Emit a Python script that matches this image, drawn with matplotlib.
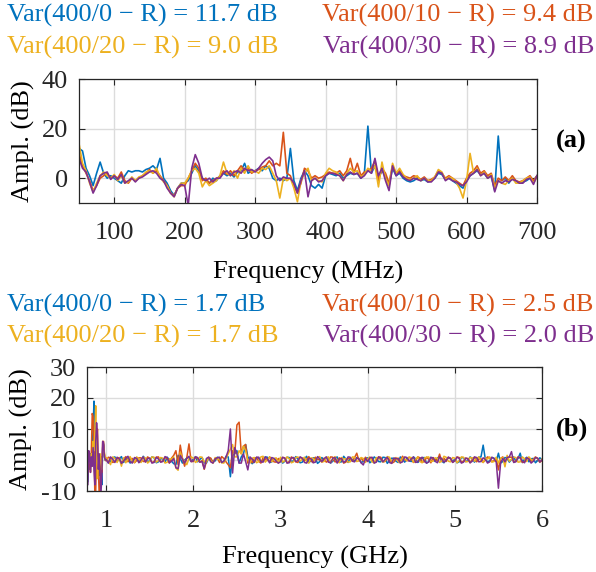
import numpy as np
import matplotlib
matplotlib.use("Agg")
import matplotlib.pyplot as plt

plt.rcParams["font.family"] = ["Liberation Serif", "DejaVu Serif"]
plt.rcParams["axes.unicode_minus"] = False

colors = ["#0072BD", "#D95319", "#EDB120", "#7E2F8E"]

# (a) 50-700 MHz, 5 MHz step
freq_a = np.arange(50, 701, 5)
blue_a = [12, 11, 4, 1, -3, 2, 6.5, 2, 0, 1,
          0, -1, -2, 1, 3, 2.5, 3, 3, 2.5, 3.5,
          4, 5, 3.5, 8, 0, -2, -5, -7, -4, -2,
          -2, -1, 2, 5, 3, 0, -1, -2, 0, -1,
          1, 2, 1, 2, 0.5, 2.5, 3, 6, 2, 3,
          3, 4, 3, 5, 4, 0, -1, 0, -1, 0,
          12, -1, -5, 0, 3, 1, -3, -4, -2.5, -4,
          1, 2, 1.5, 1, 2, 0, 1, 2, 1.5, 2,
          0, 2, 21, 2, 5, 0, 3, 1, -3, 4,
          1, 2, 0, -1, -1.5, -1, 0, -1, -0.5, -1.5,
          -1, 0, 2, 1.5, -0.5, 0, -1, -2, -3, -4,
          -1, 1, 2, 3, 1.5, 2, 0, 1, -5, 17,
          -1, 0, -2, 0, -1, -2, -1.5, -1, 0, -1, 1]
orange_a = [10, 5, 2, -1, -5, -3, 0, 1, 2, 0,
            1, 0, 2.5, -1, -2, 0, -1, 0, 1, 2,
            3.5, 2, 3, 1, -1, -3, -6, -7, -4, -3,
            -3, 0, 3, 6, 4, -1, 0, -2, -1, 0,
            0.5, 3, 1.5, 3, 1, 3, 5, 3, 4, 2,
            3, 3.5, 4.5, 5, 7, 5, 6, 5, 18.5, 2,
            1, -3, -6, -2, 4, 3, 0, 1, 0, 0.5,
            1.5, 2.5, 2, 2, 3, 1, 3, 8, 2, 6,
            1, 2.5, 3, 4, 7, -1, 4, 2, -2, 5,
            2, 3, 1, 0.5, 0, 1, 0.5, -0.5, 0.5, -1,
            -0.5, 0.5, 3, 2, 0, 1, 0, -1, -2, -3,
            0, 2, 3, 5, 2, 3, 1, 2, -3, 0,
            -1, 0.5, -1, 1, -1, -1.5, -1, 0, 1, -1, 1]
yellow_a = [14, 6, 3, -2, -5.5, -2, 1, 2.5, 1, 0,
            1.5, -1, 1, -2, -1.5, 0.5, -1, 0.5, 1, 2.5,
            3, 2, 4, 0.5, -1.5, -3, -6, -7.5, -4, -2,
            -2, 0, 3, 4, 2, -3.5, -1, -3, -2, -1,
            1, 6.5, 2, 1, 3, 0, 4, 2, 5, 2.5,
            3, 2, 4, 3.5, 5, 2, -1, -8, 0, -1,
            0, -4, -9.5, -1, 2, 4, -1, 0, -1, -1.5,
            2, 4, 3, 2.5, 1, -1, 2, 4, 2.5, 3,
            0.5, 1.5, 4, 3, 5, -3.5, 6.5, 0, -3, 6,
            2, 4, 1.5, 0, -0.5, 0, 1, -1, 0, -1,
            -1, 0.5, 3.5, 2.5, -0.5, 0.5, 0, -1.5, -4, -8,
            -1, 10, 2, 4, 1, 2.5, 0, 1.5, -4, -1,
            -2, -2.5, -1, 0, -2, -2, -1, 0, 0.5, -2, 0.5]
purple_a = [8, 4, 2.5, -1.5, -6, -3, 1, 2, 2.5, -0.5,
            1, -0.5, 1.5, -2, -1, 0, -1.5, 0, 0.5, 1.5,
            2.5, 3, 2, 0, -1, -4, -6, -7.5, -4, -2.5,
            -3, -11, 4, 9.5, 6, 0, -1, 0, -1.5, 0,
            0, 2, 3, 1, 2.5, 3, 2, 4, 3, 3.5,
            2.5, 4, 6, 7.5, 8.5, 7, 1, -1, 0.5, 0,
            0, -2, -6, -1, 3, -7.5, -1, 0, -1.5, -1,
            1, 2, 2, 1.5, 1, -1, 1.5, 2.5, 1.5, 2,
            0, 1, 3, 2, 8, 1, 4, -1, -5, 5,
            1, 2.5, 0.5, -0.5, -1, 0, -0.5, -1, 0, -1.5,
            -1.5, 0, 2.5, 2, -1, 0, -1, -1.5, -2.5, -3,
            -1.5, 1, 2, 3.5, 1, 2, 0, 1, -5.5, -1,
            -2, -1, -1.5, -0.5, -1, -2, -2, -0.5, 0, -2.5, 1]

# (b) 0.78-6 GHz: 10 MHz step below 1 GHz, 25 MHz step above
freq_b = np.concatenate([np.arange(78, 100) / 100, np.arange(1000, 6001, 25) / 1000])
blue_b = [2, -7, 1, -3, 2, -2, 4, 10, 19, 3, -6, 8, -4, 2, -5, 0, -3, -8, 4, 5, 1, 0,
          0.5, -0.9, -0.5, 0.7, 1.0, -0.4, 0.3, 1.1, -0.8, 0.2, 0.6, -1.0, -0.3, 0.4, 0.8, -0.7, -0.5, 1.2, 0.4, -0.6,
          -0.2, 1.0, 0.7, -0.9, -0.6, 0.5, 0.3, -0.7, 0.9, 0.1, -0.4, -1.2, -1.5, 1.5, 0.5, -1.0, 0.0, 0.6, 0.8, -0.5,
          0.3, 1.1, -0.6, 0.2, 0.8, -0.9, -1.0, 0.6, 0.4, -0.7, -0.3, 0.9, 0.7, -0.8, -0.5, 1.2, 1.0, -5.4, 1.5, 2.0,
          3.0, -1.0, 1.0, 2.0, 5.0, 1.0, 0.0, -1.2, -0.5, 0.8, 0.6, -0.4, -0.3, 1.0, 0.9, -0.8, -0.6, 0.5, 0.2, -0.9,
          0.5, -1.0, -0.4, 0.9, 0.8, -0.6, -0.2, 1.1, 0.3, -0.9, -0.7, 0.4, 1.2, -0.8, -0.3, 0.7, 0.6, -1.1, -0.5, 0.8,
          -0.2, 0.9, 0.6, -1.0, -0.4, 0.5, 1.0, -0.7, -0.6, 1.2, 0.3, -0.8, 0.7, 0.1, -0.3, 0.8, 0.5, -0.9, -0.4, 0.6,
          0.7, -0.9, -0.3, 1.0, 0.4, -0.5, -0.6, 0.9, 0.8, -1.1, -0.2, 0.6, 0.5, -0.4, -0.8, 1.0, 0.3, -0.7, 0.6, -0.2,
          -0.5, 1.0, 0.4, -0.8, -0.2, 0.7, 0.8, -1.0, -0.6, 0.9, 0.3, -0.5, 0.6, 1.1, -0.4, -0.9, 0.2, 0.7, 0.5, -0.6,
          0.4, -0.9, -0.6, 0.8, 0.7, -0.5, -0.2, 1.0, 0.5, -0.7, 0.3, 0.9, 1.0, 4.8, 0.2, -0.6, -0.3, 0.8, 0.6, -0.5,
          2.2, -1.0, -0.5, 0.8, 0.6, -0.7, 0.2, 1.0, -0.4, 0.5, 2.2, -0.8, 0.3, 0.9, -0.6, 0.4, 0.5, -0.9, -0.2, 0.7,
          0.2]
orange_b = [-7, 2, -2, 1, -4, 3, 15, 14, 5, -11, -10, 3, 10, -3, -11, -11, 1, -4, 6, 6, 2, 0,
            -0.3, 0.9, 0.6, -0.8, -0.5, 0.4, 0.8, -1.0, 0.2, 1.1, -0.6, 0.3, 0.5, -0.9, -0.2, 0.7, 0.7, -0.5, -0.4, 1.0,
            0.5, -0.8, -0.5, 0.9, 1.0, -0.6, -0.3, 0.8, 0.4, -1.0, 0.6, 1.5, 3.0, -1.5, 4.8, 0.5, -2.0, 0.8, 5.2, -0.5,
            -0.5, 1.0, 0.4, -0.7, -0.2, -3.0, -0.5, 0.9, 0.6, -0.9, 0.3, 0.7, -0.8, 1.1, 0.5, -0.6, -1.5, -2.5, 3.0, 2.0,
            11.3, 12.2, 2.0, 4.5, 5.0, -1.0, 0.5, -0.9, 0.5, 0.8, -0.4, -1.0, 0.8, 0.3, -0.2, 1.0, 0.4, -0.6, -0.7, 0.5,
            -0.3, 0.8, 0.7, -0.9, -0.5, 1.0, 0.4, -0.6, -0.8, 0.9, 0.5, -0.3, 0.2, 1.1, -0.4, -0.8, 0.9, 0.2, 0.1, -0.7,
            0.6, -0.7, -0.3, 1.0, 0.9, -0.6, -0.5, 0.7, 0.3, -1.0, -0.7, 0.5, 0.4, -0.4, 0.8, 2.2, -0.3, 0.6, -0.3, 0.9,
            -0.4, 0.8, 0.6, -0.9, -0.2, 1.0, 0.9, -0.5, -0.5, 0.7, 0.3, -1.0, -0.7, 0.4, 0.6, -0.6, 1.2, 0.2, -0.3, 0.9,
            0.5, -0.8, -0.3, 1.0, 0.7, -0.6, -0.6, 0.9, 0.3, -0.9, 0.8, 0.2, -0.2, 1.9, -0.5, 0.6, -0.5, 0.9, 0.4, -0.7,
            -0.3, 1.0, 0.8, -0.7, -0.4, 0.6, 0.5, -0.9, 0.2, 0.9, -0.6, 0.3, 0.4, -0.8, 0.1, 1.0, 0.7, -0.5, -0.2, 0.6,
            -3.2, 0.5, 1.0, -0.7, 0.4, 0.9, 0.9, -0.6, -0.3, 1.0, 0.6, -0.8, -0.5, 0.7, 0.8, -0.4, 0.2, 1.0, 0.4, -0.6,
            -0.3]
yellow_b = [1, -3, 2, -1, 0, 2, -2, 6, 3, 9, 17.5, 4, -6, 1, -2, 2, -1, -3, 3, 4, 2, 0,
            0.8, -0.3, -1.5, 1.0, 0.5, -0.8, 0.6, -2.0, 0.7, -0.9, 0.2, 1.1, -0.5, -0.8, 1.0, 0.3, -0.8, 0.9, 0.6, -1.0,
            -0.4, 1.0, 0.9, -0.7, -0.2, 0.8, 0.6, -1.0, -0.7, 0.4, 0.3, 1.0, -2.6, -3.3, 2.5, 0.5, -0.5, -1.5, 0.5, 1.0,
            0.6, -0.8, -0.3, 1.0, 0.9, -0.6, -0.6, 0.7, -0.2, -1.0, 0.8, 0.3, 0.2, -0.9, -1.0, 0.5, 2.0, 3.5, 5.0, 1.0,
            1.0, 3.0, 2.0, 4.5, 3.0, 0.0, -1.0, 0.6, 0.8, -0.9, -0.5, 1.0, 1.2, -0.7, 0.2, 0.9, -0.6, 0.4, 0.7, -1.0,
            0.9, -0.7, -0.2, 1.0, 0.4, -0.9, -0.6, 0.8, 1.0, -0.4, 0.3, 0.9, -0.5, -1.0, 0.7, 0.5, -0.3, 0.8, 1.1, -0.6,
            -0.5, 0.7, 1.0, -0.8, 0.2, 1.1, -0.4, -0.9, 0.8, 0.3, 0.4, -0.7, -0.6, 1.0, 0.9, -0.5, -0.2, 0.8, 0.5, -0.8,
            0.3, 1.0, -0.6, -0.9, 0.8, 0.4, 0.2, -0.7, -0.3, 1.1, 0.9, -0.5, 0.4, 0.8, -0.5, -1.0, 0.7, 0.3, -0.2, 0.9,
            0.8, -0.7, 0.2, 1.0, -0.5, -0.9, 0.6, 0.9, 1.0, -0.5, -0.4, 0.7, 0.5, -0.8, -0.3, 1.2, 0.9, -0.4, -0.6, 0.8,
            0.6, -0.9, -0.2, 1.0, 0.9, -0.6, -0.5, 0.8, 0.7, -0.4, 0.4, 1.0, -0.3, -0.8, 0.6, 0.3, 1.0, -0.7, -0.5, 0.9,
            -1.0, 0.5, 0.8, -2.2, 1.5, -0.4, 0.3, 0.9, 0.8, -0.7, -0.6, 1.0, 0.4, -0.5, 1.0, 0.2, -0.3, 0.9, 0.5, -0.8,
            0.4]
purple_b = [3, -8, 3, 2, -4, 1, -2, 4, -3, -8, 6, 12, 8, -3, 2, -4, -11, -5, 6, 5.5, 1, 0,
            0.2, -1.0, 1.0, 0.3, -0.8, 0.9, 0.4, -1.1, -0.3, 0.6, 1.2, -0.5, -1.0, 0.8, 0.5, -0.9, 0.1, 1.0, -0.7, 0.4,
            0.6, -1.0, -0.8, 0.9, 0.3, -0.7, -0.5, 1.1, 0.8, -0.9, -0.4, 0.5, -2.5, -2.8, 1.5, 0.3, -1.0, 0.6, 1.2, -0.5,
            -0.3, 1.0, 0.8, -0.7, -0.5, -2.8, 0.5, 0.9, -0.6, -1.0, 0.4, 0.7, 0.9, -0.8, -0.4, 1.0, 3.0, 10.0, -4.2, 4.0,
            2.0, -1.0, -1.0, 2.0, -0.5, -3.2, 1.0, 0.3, -0.8, 0.9, 0.9, -0.6, -0.7, 1.0, 0.4, -0.9, 0.8, 0.5, -0.4, -1.0,
            -0.6, 0.9, 0.5, -1.0, -0.9, 0.7, 0.8, -0.5, -0.2, 1.0, 0.6, -0.8, -1.0, 0.5, 0.4, -0.9, -0.7, 1.1, 0.3, -0.5,
            0.4, 1.0, -0.7, -0.9, 0.6, 0.8, -1.0, 0.3, 0.5, -0.8, -0.3, 1.0, 0.9, -0.4, -0.6, 0.7, 0.3, -0.9, -1.6, 0.5,
            -0.5, 0.7, 0.9, -1.0, -0.7, 1.0, 0.4, -0.6, 0.2, 0.9, -0.8, -1.1, 0.6, 0.5, 0.3, -0.9, -0.6, 1.0, 0.8, -0.4,
            0.3, 1.0, -0.8, -0.6, 0.5, 0.9, -0.3, -1.0, -0.6, 0.8, 0.7, -0.4, -0.9, 1.0, 0.4, -0.7, -0.2, 0.9, 0.6, -0.8,
            -0.2, 0.9, 0.5, -1.0, -0.7, 0.6, 0.3, -0.9, -0.4, 1.0, 0.8, -0.6, -0.5, 0.7, 0.2, -1.0, -0.6, 0.9, 0.4, -0.7,
            -9.1, -1.0, 0.5, -0.6, 0.8, 1.0, 2.7, -0.8, -0.6, 0.9, 0.8, -0.5, -0.9, 0.7, 0.3, -1.0, -0.4, 0.8, 0.6, -0.7,
            0.1]

labels_a = ["Var(400/0 \u2212 R) = 11.7 dB", "Var(400/10 \u2212 R) = 9.4 dB",
            "Var(400/20 \u2212 R) = 9.0 dB", "Var(400/30 \u2212 R) = 8.9 dB"]
labels_b = ["Var(400/0 \u2212 R) = 1.7 dB", "Var(400/10 \u2212 R) = 2.5 dB",
            "Var(400/20 \u2212 R) = 1.7 dB", "Var(400/30 \u2212 R) = 2.0 dB"]

fs = 19
W, H = 596, 572


def style(ax):
    ax.grid(True, color="#dcdcdc", linewidth=1.0)
    ax.set_axisbelow(True)
    ax.tick_params(direction="in", length=4, width=0.8, top=True, right=True,
                   labelsize=fs, colors="#262626", labelcolor="#262626")
    ax.tick_params(axis="x", pad=14)
    ax.tick_params(axis="y", pad=8)
    for s in ax.spines.values():
        s.set_color("#262626")
        s.set_linewidth(0.9)


def legend_text(fig, labels, y1, y2):
    pos = [(7, y1), (322, y1), (7, y2), (323, y2)]
    for (px, py), lab, c in zip(pos, labels, colors):
        fig.text(px / W, 1 - py / H, lab, color=c, fontsize=fs, ha="left", va="center")


fig = plt.figure(figsize=(5.96, 5.72), dpi=100)

ax1 = fig.add_axes([79 / W, 1 - 203 / H, 458 / W, 124 / H])
for y, c in zip([blue_a, orange_a, yellow_a, purple_a], colors):
    ax1.plot(freq_a, y, color=c, linewidth=1.2)
ax1.set_xlim(50, 700)
ax1.set_ylim(-10, 40)
ax1.set_xticks([100, 200, 300, 400, 500, 600, 700])
ax1.set_yticks([0, 20, 40])
style(ax1)
ax1.set_xlabel("Frequency (MHz)", fontsize=fs)
ax1.xaxis.set_label_coords(0.5, -0.47)
ax1.set_ylabel("Ampl. (dB)", fontsize=fs)
ax1.yaxis.set_label_coords(-0.095, 0.5)
ax1.text(1.075, 0.5, "(a)", transform=ax1.transAxes, fontsize=fs,
         fontweight="bold", ha="center", va="center")

ax2 = fig.add_axes([87 / W, 1 - 491 / H, 455 / W, 124 / H])
for y, c in zip([blue_b, orange_b, yellow_b, purple_b], colors):
    ax2.plot(freq_b, y, color=c, linewidth=1.1)
ax2.set_xlim(0.78, 6)
ax2.set_ylim(-10, 30)
ax2.set_xticks([1, 2, 3, 4, 5, 6])
ax2.set_yticks([-10, 0, 10, 20, 30])
style(ax2)
ax2.set_xlabel("Frequency (GHz)", fontsize=fs)
ax2.xaxis.set_label_coords(0.5, -0.44)
ax2.set_ylabel("Ampl. (dB)", fontsize=fs)
ax2.yaxis.set_label_coords(-0.118, 0.5)
ax2.text(1.065, 0.5, "(b)", transform=ax2.transAxes, fontsize=fs,
         fontweight="bold", ha="center", va="center")

legend_text(fig, labels_a, 15, 47)
legend_text(fig, labels_b, 305, 336)

fig.savefig("out.png", dpi=100)
